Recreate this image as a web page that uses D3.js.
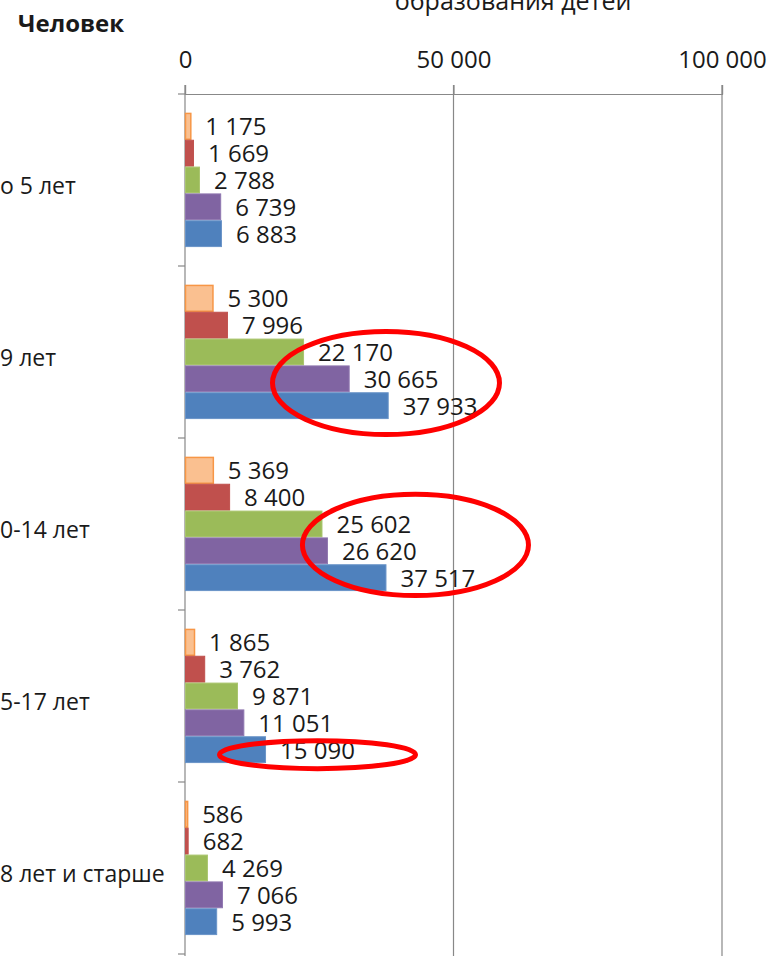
<!DOCTYPE html>
<html>
<head>
  <meta charset="utf-8">
  <title>Человек</title>
  <style>
    body { margin: 0; background: #fff; }
    svg { display: block; }
    text { font-family: 'Open Sans', sans-serif; fill: #1a1a1a; }
  </style>
</head>
<body>
  <div id='chart'></div>
  <script src="https://d3js.org/d3.v7.min.js"></script>
  <script>
    // data (top bar of each group first)
    let categories = ['о 5 лет', '9 лет', '0-14 лет', '5-17 лет', '8 лет и старше'];
    let seriesNames = ['s1', 's2', 's3', 's4', 's5'];
    let seriesColors = ['#fac090', '#c0504d', '#9bbb59', '#8064a2', '#4f81bd'];
    let seriesStrokes = ['#f79646', '#c0504d', '#a9c56e', '#8f77b0', '#6a94c8'];
    let values = [
      [1175, 1669, 2788, 6739, 6883],
      [5300, 7996, 22170, 30665, 37933],
      [5369, 8400, 25602, 26620, 37517],
      [1865, 3762, 9871, 11051, 15090],
      [586, 682, 4269, 7066, 5993]
    ];
    let tickValues = [0, 50000, 100000];
    let tickLabels = ['0', '50 000', '100 000'];
    // red ellipses drawn on the chart: value span on x, bar-slot span on y
    let marks = [
      { cat: '9 лет', from: 15830, to: 59030, top: 1.64, bottom: 5.67 },
      { cat: '0-14 лет', from: 21400, to: 64430, top: 1.30, bottom: 5.26 },
      { cat: '5-17 лет', from: 5960, to: 43390, top: 4.07, bottom: 5.30 }
    ];

    let svgWidth = 771;
    let svgHeight = 956;
    let margin = { top: 94, left: 185, right: 49, bottom: 2 };

    let fmt = v => d3.format(',')(v).replace(/,/g, ' ');

    let svg = d3.select('#chart').append('svg')
      .attr('width', svgWidth)
      .attr('height', svgHeight);

    let x = d3.scaleLinear()
      .domain([0, 100000])
      .range([margin.left, svgWidth - margin.right]);

    let y = d3.scaleBand()
      .domain(categories)
      .range([margin.top, svgHeight - margin.bottom])
      .paddingInner(0.22)
      .paddingOuter(0.11);

    let ys = d3.scaleBand()
      .domain(d3.range(seriesNames.length))
      .range([0, y.bandwidth()]);

    // cut-off title
    svg.append('text')
      .attr('x', 513).attr('y', 10)
      .attr('text-anchor', 'middle')
      .style('font-size', '25px')
      .text('образования детей');

    svg.append('text')
      .attr('x', 18).attr('y', 32)
      .style('font-size', '24px')
      .style('font-weight', 'bold')
      .text('Человек');

    // gridlines
    svg.append('g').selectAll('line')
      .data(tickValues.slice(1))
      .join('line')
      .attr('x1', d => x(d)).attr('x2', d => x(d))
      .attr('y1', margin.top - 9).attr('y2', svgHeight)
      .attr('stroke', '#888').attr('stroke-width', 1.2);

    // top axis
    let xAxis = svg.append('g')
      .attr('transform', 'translate(0,' + margin.top + ')')
      .call(d3.axisTop(x).tickValues(tickValues).tickSize(9).tickFormat((d, i) => tickLabels[i]));
    xAxis.select('.domain').attr('stroke', '#888').attr('stroke-width', 1.2);
    xAxis.selectAll('.tick line').attr('stroke', '#888').attr('stroke-width', 1.2);
    xAxis.selectAll('.tick text')
      .attr('y', -26)
      .attr('fill', '#1a1a1a')
      .style('font-size', '24px')
      .style('font-family', "'Open Sans', sans-serif");

    // left axis line + category separators
    svg.append('line')
      .attr('x1', x(0)).attr('x2', x(0))
      .attr('y1', margin.top - 9).attr('y2', svgHeight)
      .attr('stroke', '#888').attr('stroke-width', 1.2);

    let step = y.step();
    svg.append('g').selectAll('line')
      .data(d3.range(categories.length + 1))
      .join('line')
      .attr('x1', x(0) - 7).attr('x2', x(0))
      .attr('y1', d => margin.top + d * step).attr('y2', d => margin.top + d * step)
      .attr('stroke', '#888').attr('stroke-width', 1.2);

    // category labels
    svg.append('g').selectAll('text')
      .data(categories)
      .join('text')
      .attr('x', 0)
      .attr('y', d => y(d) + y.bandwidth() / 2 + 14)
      .style('font-size', '23px')
      .text(d => d);

    // bars
    let groups = svg.append('g').selectAll('g')
      .data(categories)
      .join('g')
      .attr('transform', d => 'translate(0,' + y(d) + ')');

    groups.selectAll('rect')
      .data((d, i) => values[i].map((v, j) => ({ v: v, j: j })))
      .join('rect')
      .attr('x', x(0) + 0.5)
      .attr('y', d => ys(d.j) + 0.5)
      .attr('width', d => Math.max(0, x(d.v) - x(0) - 1))
      .attr('height', ys.bandwidth() - 1)
      .attr('fill', d => seriesColors[d.j])
      .attr('stroke', d => seriesStrokes[d.j])
      .attr('stroke-width', d => d.j == 0 ? 1.5 : 1);

    groups.selectAll('text')
      .data((d, i) => values[i].map((v, j) => ({ v: v, j: j })))
      .join('text')
      .attr('x', d => x(d.v) + 14)
      .attr('y', d => ys(d.j) + ys.bandwidth() / 2 + 9)
      .style('font-size', '24px')
      .text(d => fmt(d.v));

    // red ellipses
    svg.append('g').selectAll('ellipse')
      .data(marks)
      .join('ellipse')
      .attr('cx', d => (x(d.from) + x(d.to)) / 2)
      .attr('cy', d => y(d.cat) + ys.step() * (d.top + d.bottom) / 2)
      .attr('rx', d => (x(d.to) - x(d.from)) / 2 - 2.5)
      .attr('ry', d => ys.step() * (d.bottom - d.top) / 2 - 2.5)
      .attr('fill', 'none')
      .attr('stroke', '#ff0000')
      .attr('stroke-width', 5);
  </script>
</body>
</html>
